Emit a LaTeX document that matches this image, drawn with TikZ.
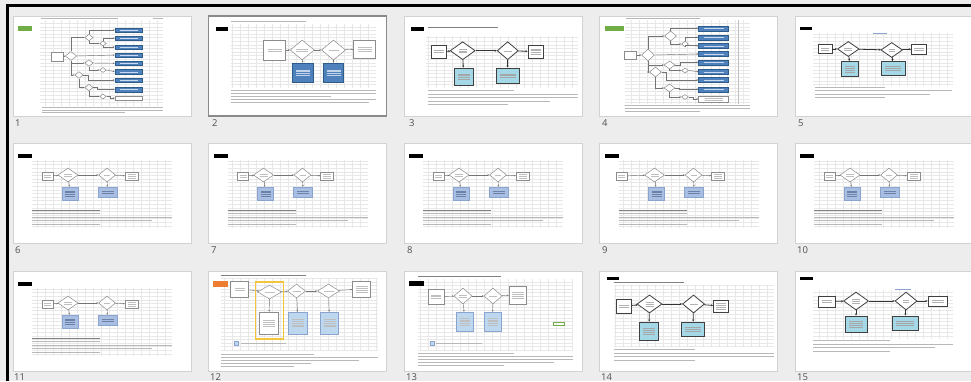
\documentclass[tikz,border=0pt]{standalone}
\usepackage{fontspec}
\setmainfont{Open Sans}
\usetikzlibrary{shapes.geometric,arrows.meta}

\definecolor{sorterbg}{HTML}{EDEDED}
\definecolor{thumbedge}{HTML}{D2D2D2}
\definecolor{selectedge}{HTML}{8A8A8A}
\definecolor{gridgray}{HTML}{E8E8E8}
\definecolor{tagGreen}{HTML}{70AD47}
\definecolor{tagOrange}{HTML}{ED7D31}
\definecolor{boxBlue}{HTML}{4F81BD}
\definecolor{boxBlueEdge}{HTML}{2E5C8A}
\definecolor{boxTeal}{HTML}{A5D8E6}
\definecolor{boxSteel}{HTML}{A9BEE3}
\definecolor{boxSteelEdge}{HTML}{8AA3CF}
\definecolor{boxPale}{HTML}{BDD7EE}
\definecolor{hiliteYellow}{HTML}{F2C53D}
\definecolor{labelgray}{HTML}{505050}

\tikzset{
  thumb/.style={fill=white, draw=thumbedge, line width=0.6pt},
  thumbsel/.style={fill=white, draw=selectedge, line width=1.4pt},
  gridl/.style={draw=gridgray, line width=0.3pt},
  tagfill/.style={fill=#1},
  txtl/.style={draw=black!28, line width=0.6pt},
  titlel/.style={draw=black!50, line width=0.7pt},
  plainbox/.style={rectangle, draw=black!45, fill=white, line width=0.5pt, inner sep=0pt},
  darkbox/.style={rectangle, draw=black!75, fill=white, line width=0.8pt, inner sep=0pt},
  dec/.style={diamond, draw=black!45, fill=white, line width=0.5pt, inner sep=0pt},
  darkdec/.style={diamond, draw=black!75, fill=white, line width=0.8pt, inner sep=0pt},
  bluebox/.style={rectangle, draw=boxBlueEdge, fill=boxBlue, line width=0.5pt, inner sep=0pt},
  tealbox/.style={rectangle, draw=black!75, fill=boxTeal, line width=0.8pt, inner sep=0pt},
  steelbox/.style={rectangle, draw=boxSteelEdge, fill=boxSteel, line width=0.5pt, inner sep=0pt},
  palebox/.style={rectangle, draw=boxSteelEdge, fill=boxPale, line width=0.5pt, inner sep=0pt},
  conn/.style={draw=black!55, line width=0.45pt, -{Stealth[length=1.8pt,width=1.6pt]}},
  darkconn/.style={draw=black!80, line width=0.8pt, -{Stealth[length=2.2pt,width=2pt]}},
  slidenum/.style={anchor=west, text=labelgray, font=\fontsize{9.5}{10}\selectfont, inner sep=0pt},
  sz/.style 2 args={minimum width=#1pt, minimum height=#2pt},
}

% spreadsheet grid: left, top, right, bottom
\newcommand\gridbox[4]{\draw[gridl, xstep=8pt, ystep=3.6pt] (#1,#4) grid (#3,#2);}
% faint lines standing for the small print inside a shape: node, half width, count, colour
\newcommand\smudges[4]{%
  \foreach \k in {1,...,#3}{%
    \draw[#4, line width=0.4pt] ([xshift=-#2pt, yshift={((#3+1)/2-\k)*1.8pt}]#1.center) -- ++({2*#2},0);}}

% slide with a grid and a two-decision chart (slides 6 to 11)
\newcommand\gridflow[2]{%
  \gridbox{19}{17}{159}{85}
  \fill[tagfill=black] (5,11) rectangle (19,15);
  \node[plainbox, sz={11}{8}] (#1s) at (#2,33) {};
  \node[dec, sz={20}{14}] (#1d) at (55,32) {};
  \node[dec, sz={17}{14}] (#1e) at (94,32) {};
  \node[plainbox, sz={13}{8}] (#1f) at (118.5,33) {};
  \node[steelbox, sz={16}{13}] (#1b) at (57,50.5) {};
  \node[steelbox, sz={19}{10}] (#1c) at (94.5,49) {};
  \draw[conn] (#1s) -- (#1d);
  \draw[conn] (#1d) -- (#1e);
  \draw[conn] (#1e) -- (#1f);
  \draw[conn] (#1d) -- (#1b);
  \draw[conn] (#1e) -- (#1c);
  \smudges{#1s}{3.5}{2}{black!25}
  \smudges{#1d}{4}{2}{black!25}
  \smudges{#1e}{3}{1}{black!25}
  \smudges{#1f}{4}{3}{black!25}
  \smudges{#1b}{5}{4}{boxSteelEdge!80!black}
  \smudges{#1c}{6}{2}{boxSteelEdge!80!black}
  \draw[titlel] (19,67) -- (87,67);
  \draw[txtl] (19,70.5) -- (87,70.5);
  \draw[txtl] (19,74) -- (159,74);
  \draw[txtl] (19,77.5) -- (139,77.5);
  \draw[txtl] (19,81) -- (87,81);
}

\begin{document}
\begin{tikzpicture}[x=1pt, y=-1pt]
\useasboundingbox (0,0) rectangle (971,381);
\clip (0,0) rectangle (971,381);
\fill[sorterbg] (0,0) rectangle (971,381);
% window frame
\fill[black] (6,4) rectangle (971,7);
\fill[black] (6,4) rectangle (9,381);

% ---------------- row 1 ----------------
% slide 1: decision tree
\begin{scope}[shift={(13,16)}]
  \draw[thumb] (0,0) rectangle (178,100);
  \gridbox{27}{4}{150}{90}
  \draw[txtl] (28,2) -- (105,2);
  \draw[txtl] (140,2) -- (150,2);
  \fill[tagfill=tagGreen] (5.3,10) rectangle (18.7,14.7);
  \node[plainbox, sz={11.6}{9}] (a1s) at (44.5,40.5) {};
  \node[dec, sz={11.7}{8.7}] (a1d) at (58,40) {};
  \node[dec, sz={8.3}{6.7}] (a1da) at (76,21.5) {};
  \node[dec, sz={6.7}{5}] (a1db) at (90,27.5) {};
  \node[dec, sz={8.3}{6.7}] (a1dc) at (76,47) {};
  \node[dec, sz={6.7}{5}] (a1dd) at (90,54) {};
  \node[dec, sz={8.3}{6.7}] (a1de) at (66,59) {};
  \node[dec, sz={8.3}{6.7}] (a1df) at (76,71.5) {};
  \node[dec, sz={6.7}{5}] (a1dg) at (90,80.5) {};
  \foreach \n/\yy in {1/14,2/22.3,3/31,4/39,5/47.3,6/55.7,7/64,8/73.5}
    \node[bluebox, sz={27}{4.5}] (a1b\n) at (115.5,\yy) {};
  \node[plainbox, sz={27}{4.5}] (a1b9) at (115.5,82) {};
  \draw[conn] (a1s) -- (a1d);
  \draw[conn] (a1d.north) |- (a1da.west);
  \draw[conn] (a1da.north) |- (a1b1.west);
  \draw[conn] (a1da.south) |- (a1db.west);
  \draw[conn] (a1db.north) |- (a1b2.west);
  \draw[conn] (a1db.south) |- (a1b3.west);
  \draw[conn] (a1d.east) -- (a1b4.west);
  \draw[conn] (a1d.south) |- (a1dc.west);
  \draw[conn] (a1dc.east) -- (a1b5.west);
  \draw[conn] (a1dc.south) |- (a1dd.west);
  \draw[conn] (a1dd.east) -- (a1b6.west);
  \draw[conn] (a1d.south) |- (a1de.west);
  \draw[conn] (a1de.east) -- ++(5,0) |- (a1b7.west);
  \draw[conn] (a1de.south) |- (a1df.west);
  \draw[conn] (a1df.east) -- ++(4,0) |- (a1b8.west);
  \draw[conn] (a1df.south) |- (a1dg.west);
  \draw[conn] (a1dg.east) -- ++(4,0) |- (a1b9.west);
  \foreach \n in {1,...,8} \smudges{a1b\n}{9}{1}{white!70!boxBlue}
  \draw[txtl] (29,91.5) -- (150,91.5);
  \draw[txtl] (29,94) -- (150,94);
  \draw[txtl] (29,96.5) -- (112,96.5);
\end{scope}
\node[slidenum] (n1) at (15,123) {1};

% slide 2: two decisions with blue outcomes (selected)
\begin{scope}[shift={(208.5,16)}]
  \draw[thumbsel] (0,0) rectangle (178,100);
  \gridbox{22}{8}{167}{72}
  \draw[txtl] (22,5.5) -- (97,5.5);
  \fill[tagfill=black] (7,10.7) rectangle (19,14.7);
  \node[plainbox, sz={22}{20}] (a2s) at (66,34) {};
  \node[dec, sz={24}{20}] (a2d) at (93.7,34) {};
  \node[dec, sz={24}{20}] (a2e) at (125,34) {};
  \node[plainbox, sz={22}{18}] (a2f) at (156,33) {};
  \node[bluebox, sz={21}{19}] (a2b) at (94.5,56.5) {};
  \node[bluebox, sz={20}{19}] (a2c) at (125,56.5) {};
  \draw[conn] (a2s) -- (a2d);
  \draw[conn] (a2d) -- (a2e);
  \draw[conn] (a2e) -- (a2f);
  \draw[conn] (a2d) -- (a2b);
  \draw[conn] (a2e) -- (a2c);
  \smudges{a2s}{7}{2}{black!25}
  \smudges{a2d}{6}{2}{black!25}
  \smudges{a2e}{5}{1}{black!25}
  \smudges{a2f}{7}{3}{black!25}
  \smudges{a2b}{7}{4}{white!65!boxBlue}
  \smudges{a2c}{7}{4}{white!65!boxBlue}
  \draw[txtl] (22,74.5) -- (167,74.5);
  \draw[txtl] (22,77.5) -- (167,77.5);
  \draw[txtl] (22,80.5) -- (122,80.5);
  \draw[txtl] (22,83.5) -- (167,83.5);
  \draw[txtl] (22,86.5) -- (160,86.5);
\end{scope}
\node[slidenum] (n2) at (212,123) {2};

% slide 3: two decisions with teal outcomes
\begin{scope}[shift={(404,16)}]
  \draw[thumb] (0,0) rectangle (178,100);
  \gridbox{22}{20}{174}{72}
  \fill[tagfill=black] (7,10.7) rectangle (20,14.7);
  \draw[titlel] (24,11) -- (94,11);
  \node[darkbox, sz={15}{13}] (a3s) at (34.5,35.5) {};
  \node[darkdec, sz={25}{18}] (a3d) at (58.7,34.7) {};
  \node[darkdec, sz={21}{18}] (a3e) at (103.7,34.7) {};
  \node[darkbox, sz={15}{13}] (a3f) at (131.5,35.5) {};
  \node[tealbox, sz={19}{17}] (a3b) at (59.5,60.5) {};
  \node[tealbox, sz={23}{15}] (a3c) at (103.5,59.5) {};
  \draw[darkconn] (a3s) -- (a3d);
  \draw[darkconn] (a3d) -- (a3e);
  \draw[darkconn] (a3e) -- (a3f);
  \draw[darkconn] (a3d) -- (a3b);
  \draw[darkconn] (a3e) -- (a3c);
  \smudges{a3s}{5}{2}{black!30}
  \smudges{a3d}{4}{3}{black!30}
  \smudges{a3e}{4}{1}{black!30}
  \smudges{a3f}{5}{4}{black!30}
  \smudges{a3b}{6}{4}{black!35}
  \smudges{a3c}{8}{3}{black!35}
  \draw[txtl] (24,74.5) -- (110,74.5);
  \draw[txtl] (24,78) -- (174,78);
  \draw[txtl] (24,81.5) -- (174,81.5);
  \draw[txtl] (24,85) -- (146,85);
  \draw[txtl] (24,88.5) -- (104,88.5);
\end{scope}
\node[slidenum] (n3) at (409,123) {3};

% slide 4: decision tree, second version
\begin{scope}[shift={(599.5,16)}]
  \draw[thumb] (0,0) rectangle (178,100);
  \gridbox{25}{4}{150}{88}
  \draw[gridl, draw=black!25] (139,4) -- (139,88);
  \draw[txtl] (26,2.5) -- (100,2.5);
  \fill[tagfill=tagGreen] (5,10) rectangle (24,15);
  \node[plainbox, sz={12}{8}] (a4s) at (31,39) {};
  \node[dec, sz={13}{12}] (a4d) at (48.5,39) {};
  \node[dec, sz={12}{10}] (a4da) at (71,20) {};
  \node[dec, sz={7}{6}] (a4db) at (85.5,28) {};
  \node[dec, sz={11}{8}] (a4dc) at (70,49) {};
  \node[dec, sz={7}{5}] (a4dd) at (85.5,54.5) {};
  \node[dec, sz={12}{10}] (a4de) at (56,56) {};
  \node[dec, sz={11}{8}] (a4df) at (70,72) {};
  \node[dec, sz={7}{5}] (a4dg) at (85.5,81) {};
  \foreach \n/\yy in {1/12.3,2/21.3,3/29.7,4/38,5/46.3,6/55.7,7/64,8/73.3}
    \node[bluebox, sz={30}{5}] (a4b\n) at (114,\yy) {};
  \node[plainbox, sz={30}{6}] (a4b9) at (114,83) {};
  \draw[conn] (a4s) -- (a4d);
  \draw[conn] (a4d.north) |- (a4da.west);
  \draw[conn] (a4da.north) |- (a4b1.west);
  \draw[conn] (a4da.south) |- (a4db.west);
  \draw[conn] (a4db.north) |- (a4b2.west);
  \draw[conn] (a4db.south) |- (a4b3.west);
  \draw[conn] (a4d.east) -- (a4b4.west);
  \draw[conn] (a4d.south) |- (a4dc.west);
  \draw[conn] (a4dc.east) -- ++(5,0) |- (a4b5.west);
  \draw[conn] (a4dc.south) |- (a4dd.west);
  \draw[conn] (a4dd.east) -- (a4b6.west);
  \draw[conn] (a4d.south) |- (a4de.west);
  \draw[conn] (a4de.east) -- ++(4,0) |- (a4b7.west);
  \draw[conn] (a4de.south) |- (a4df.west);
  \draw[conn] (a4df.east) -- ++(4,0) |- (a4b8.west);
  \draw[conn] (a4df.south) |- (a4dg.west);
  \draw[conn] (a4dg.east) -- ++(4,0) |- (a4b9.west);
  \foreach \n in {1,...,8} \smudges{a4b\n}{10}{1}{white!70!boxBlue}
  \smudges{a4b9}{9}{2}{black!25}
  \draw[txtl] (25,89.5) -- (150,89.5);
  \draw[txtl] (25,92.2) -- (150,92.2);
  \draw[txtl] (25,94.9) -- (100,94.9);
\end{scope}
\node[slidenum] (n4) at (602,123) {4};

% slide 5: two decisions with teal outcomes
\begin{scope}[shift={(795,16)}]
  \draw[thumb] (0,0) rectangle (178,100);
  \gridbox{18}{17}{158}{70}
  \draw[draw=boxSteelEdge, line width=0.6pt] (78,17) -- (92,17);
  \fill[tagfill=black] (5,10.7) rectangle (17,14);
  \node[darkbox, sz={14}{8.3}] (a5s) at (30,33) {};
  \node[darkdec, sz={21.7}{15}] (a5d) at (53.3,33) {};
  \node[darkdec, sz={21.7}{15}] (a5e) at (96.7,34) {};
  \node[darkbox, sz={15}{10}] (a5f) at (124,33) {};
  \node[tealbox, sz={16.6}{15}] (a5b) at (55,53) {};
  \node[tealbox, sz={23.3}{13.3}] (a5c) at (98.3,52.3) {};
  \draw[darkconn] (a5s) -- (a5d);
  \draw[darkconn] (a5d) -- (a5e);
  \draw[darkconn] (a5e) -- (a5f);
  \draw[darkconn] (a5d) -- (a5b);
  \draw[darkconn] (a5e) -- (a5c);
  \smudges{a5s}{4}{2}{black!30}
  \smudges{a5d}{4}{2}{black!30}
  \smudges{a5e}{3}{2}{black!30}
  \smudges{a5f}{5}{2}{black!30}
  \smudges{a5b}{5}{4}{black!35}
  \smudges{a5c}{8}{3}{black!35}
  \draw[txtl] (20,71) -- (90,71);
  \draw[txtl] (20,74.5) -- (157,74.5);
  \draw[txtl] (20,78) -- (135,78);
  \draw[txtl] (20,81.5) -- (90,81.5);
\end{scope}
\node[slidenum] (n5) at (798,123) {5};

% ---------------- row 2 ----------------
\begin{scope}[shift={(13,143)}]
  \draw[thumb] (0,0) rectangle (178,100);
  \gridflow{c6}{34.5}
\end{scope}
\node[slidenum] (n6) at (15,250) {6};

\begin{scope}[shift={(208.5,143)}]
  \draw[thumb] (0,0) rectangle (178,100);
  \gridflow{c7}{34.5}
\end{scope}
\node[slidenum] (n7) at (211,250) {7};

\begin{scope}[shift={(404,143)}]
  \draw[thumb] (0,0) rectangle (178,100);
  \gridflow{c8}{34.5}
\end{scope}
\node[slidenum] (n8) at (407,250) {8};

\begin{scope}[shift={(599.5,143)}]
  \draw[thumb] (0,0) rectangle (178,100);
  \gridflow{c9}{22}
\end{scope}
\node[slidenum] (n9) at (602,250) {9};

\begin{scope}[shift={(795,143)}]
  \draw[thumb] (0,0) rectangle (178,100);
  \gridflow{c10}{34.5}
\end{scope}
\node[slidenum] (n10) at (797,250) {10};

% ---------------- row 3 ----------------
\begin{scope}[shift={(13,271)}]
  \draw[thumb] (0,0) rectangle (178,100);
  \gridflow{c11}{34.5}
\end{scope}
\node[slidenum] (n11) at (14,377) {11};

% slide 12: three decisions, first one framed
\begin{scope}[shift={(208.5,271)}]
  \draw[thumb] (0,0) rectangle (178,100);
  \gridbox{12}{7}{169}{80}
  \draw[titlel] (12,4.7) -- (97,4.7);
  \fill[tagfill=tagOrange] (4,10) rectangle (19,16);
  \node[plainbox, sz={18}{16}] (d12s) at (31,18) {};
  \node[dec, sz={24}{14}] (d12d) at (61,21) {};
  \node[plainbox, sz={19}{22}] (d12w) at (60.5,52) {};
  \node[dec, sz={18}{14}] (d12e) at (88,20) {};
  \node[palebox, sz={19}{22}] (d12b) at (89.5,52) {};
  \node[dec, sz={22}{14}] (d12g) at (120,20) {};
  \node[palebox, sz={18}{22}] (d12c) at (121,52) {};
  \node[plainbox, sz={18}{16}] (d12f) at (153,18) {};
  \draw[conn] (d12s) -- (d12d);
  \draw[conn] (d12d) -- (d12e);
  \draw[conn] (d12e) -- (d12g);
  \draw[conn] (d12g) -- (d12f);
  \draw[conn] (d12d) -- (d12w);
  \draw[conn] (d12e) -- (d12b);
  \draw[conn] (d12g) -- (d12c);
  \draw[draw=hiliteYellow, line width=1.3pt] (47,11) rectangle (75,68);
  \smudges{d12s}{5}{2}{black!25}
  \smudges{d12d}{5}{1}{black!25}
  \smudges{d12e}{4}{1}{black!25}
  \smudges{d12g}{5}{1}{black!25}
  \smudges{d12f}{6}{4}{black!25}
  \smudges{d12w}{6}{4}{black!25}
  \smudges{d12b}{6}{5}{black!25}
  \smudges{d12c}{6}{5}{black!25}
  \node[palebox, sz={4}{4}] (d12k) at (28,72) {};
  \draw[txtl] (32,72) -- (77,72);
  \draw[txtl] (12,83.5) -- (105,83.5);
  \draw[txtl] (12,86.5) -- (169,86.5);
  \draw[txtl] (12,89.5) -- (150,89.5);
  \draw[txtl] (12,92.5) -- (102,92.5);
  \draw[txtl] (12,95.5) -- (85,95.5);
\end{scope}
\node[slidenum] (n12) at (210,377) {12};

% slide 13: two decisions, pale outcomes and legend
\begin{scope}[shift={(404,271)}]
  \draw[thumb] (0,0) rectangle (178,100);
  \gridbox{14}{8}{169}{80}
  \draw[titlel] (14,5.7) -- (97,5.7);
  \fill[tagfill=black] (5,10) rectangle (20,15);
  \node[plainbox, sz={16}{15}] (d13s) at (32,25.5) {};
  \node[dec, sz={18}{16}] (d13d) at (59,25) {};
  \node[dec, sz={18}{16}] (d13e) at (89,25) {};
  \node[plainbox, sz={17}{18}] (d13f) at (113.5,24) {};
  \node[palebox, sz={17}{19}] (d13b) at (60.5,50.5) {};
  \node[palebox, sz={17}{19}] (d13c) at (88.5,50.5) {};
  \draw[conn] (d13s) -- (d13d);
  \draw[conn] (d13d) -- (d13e);
  \draw[conn] (d13e) -- (d13f);
  \draw[conn] (d13d) -- (d13b);
  \draw[conn] (d13e) -- (d13c);
  \smudges{d13s}{5}{3}{black!25}
  \smudges{d13d}{4}{2}{black!25}
  \smudges{d13e}{4}{1}{black!25}
  \smudges{d13f}{6}{4}{black!25}
  \smudges{d13b}{5}{5}{black!25}
  \smudges{d13c}{5}{5}{black!25}
  \draw[draw=tagGreen, line width=0.5pt] (149,51) rectangle (160,54);
  \node[palebox, sz={4}{4}] (d13k) at (28.5,72) {};
  \draw[txtl] (32,72) -- (78,72);
  \draw[txtl] (14,82.5) -- (110,82.5);
  \draw[txtl] (14,85.5) -- (169,85.5);
  \draw[txtl] (14,88.5) -- (169,88.5);
  \draw[txtl] (14,91.5) -- (150,91.5);
  \draw[txtl] (14,94.5) -- (100,94.5);
\end{scope}
\node[slidenum] (n13) at (406,377) {13};

% slide 14: two decisions with teal outcomes
\begin{scope}[shift={(599.5,271)}]
  \draw[thumb] (0,0) rectangle (178,100);
  \gridbox{14}{14}{174}{76}
  \fill[tagfill=black] (7,6) rectangle (19,9);
  \draw[titlel] (14,11) -- (84,11);
  \node[darkbox, sz={15}{14}] (d14s) at (24.5,35) {};
  \node[darkdec, sz={25}{18}] (d14d) at (50,33) {};
  \node[darkdec, sz={22}{18}] (d14e) at (94,33) {};
  \node[darkbox, sz={15}{12}] (d14f) at (121.5,35) {};
  \node[tealbox, sz={19}{18}] (d14b) at (49.5,60) {};
  \node[tealbox, sz={23}{14}] (d14c) at (93.5,58) {};
  \draw[darkconn] (d14s) -- (d14d);
  \draw[darkconn] (d14d) -- (d14e);
  \draw[darkconn] (d14e) -- (d14f);
  \draw[darkconn] (d14d) -- (d14b);
  \draw[darkconn] (d14e) -- (d14c);
  \smudges{d14s}{5}{2}{black!30}
  \smudges{d14d}{4}{3}{black!30}
  \smudges{d14e}{4}{1}{black!30}
  \smudges{d14f}{5}{4}{black!30}
  \smudges{d14b}{6}{4}{black!35}
  \smudges{d14c}{8}{3}{black!35}
  \draw[txtl] (14,78.5) -- (95,78.5);
  \draw[txtl] (14,82) -- (174,82);
  \draw[txtl] (14,85.5) -- (174,85.5);
  \draw[txtl] (14,89) -- (95,89);
\end{scope}
\node[slidenum] (n14) at (601,377) {14};

% slide 15: two decisions with teal outcomes
\begin{scope}[shift={(795,271)}]
  \draw[thumb] (0,0) rectangle (178,100);
  \gridbox{18}{19}{158}{68}
  \fill[tagfill=black] (5,6) rectangle (18,9);
  \draw[draw=boxSteelEdge, line width=0.6pt] (100,18) -- (116,18);
  \node[darkbox, sz={17}{11}] (d15s) at (31.5,30.5) {};
  \node[darkdec, sz={25}{18}] (d15d) at (61,30) {};
  \node[darkdec, sz={22}{18}] (d15e) at (111,30) {};
  \node[darkbox, sz={19}{10}] (d15f) at (142.5,30) {};
  \node[tealbox, sz={22}{16}] (d15b) at (61,53) {};
  \node[tealbox, sz={26}{14}] (d15c) at (110,52) {};
  \draw[darkconn] (d15s) -- (d15d);
  \draw[darkconn] (d15d) -- (d15e);
  \draw[darkconn] (d15e) -- (d15f);
  \draw[darkconn] (d15d) -- (d15b);
  \draw[darkconn] (d15e) -- (d15c);
  \smudges{d15s}{5}{2}{black!30}
  \smudges{d15d}{4}{3}{black!30}
  \smudges{d15e}{3}{2}{black!30}
  \smudges{d15f}{6}{2}{black!30}
  \smudges{d15b}{7}{4}{black!35}
  \smudges{d15c}{9}{3}{black!35}
  \draw[txtl] (18,69.5) -- (95,69.5);
  \draw[txtl] (18,73) -- (158,73);
  \draw[txtl] (18,76.5) -- (140,76.5);
  \draw[txtl] (18,80) -- (95,80);
\end{scope}
\node[slidenum] (n15) at (797,377) {15};
\end{tikzpicture}
\end{document}
